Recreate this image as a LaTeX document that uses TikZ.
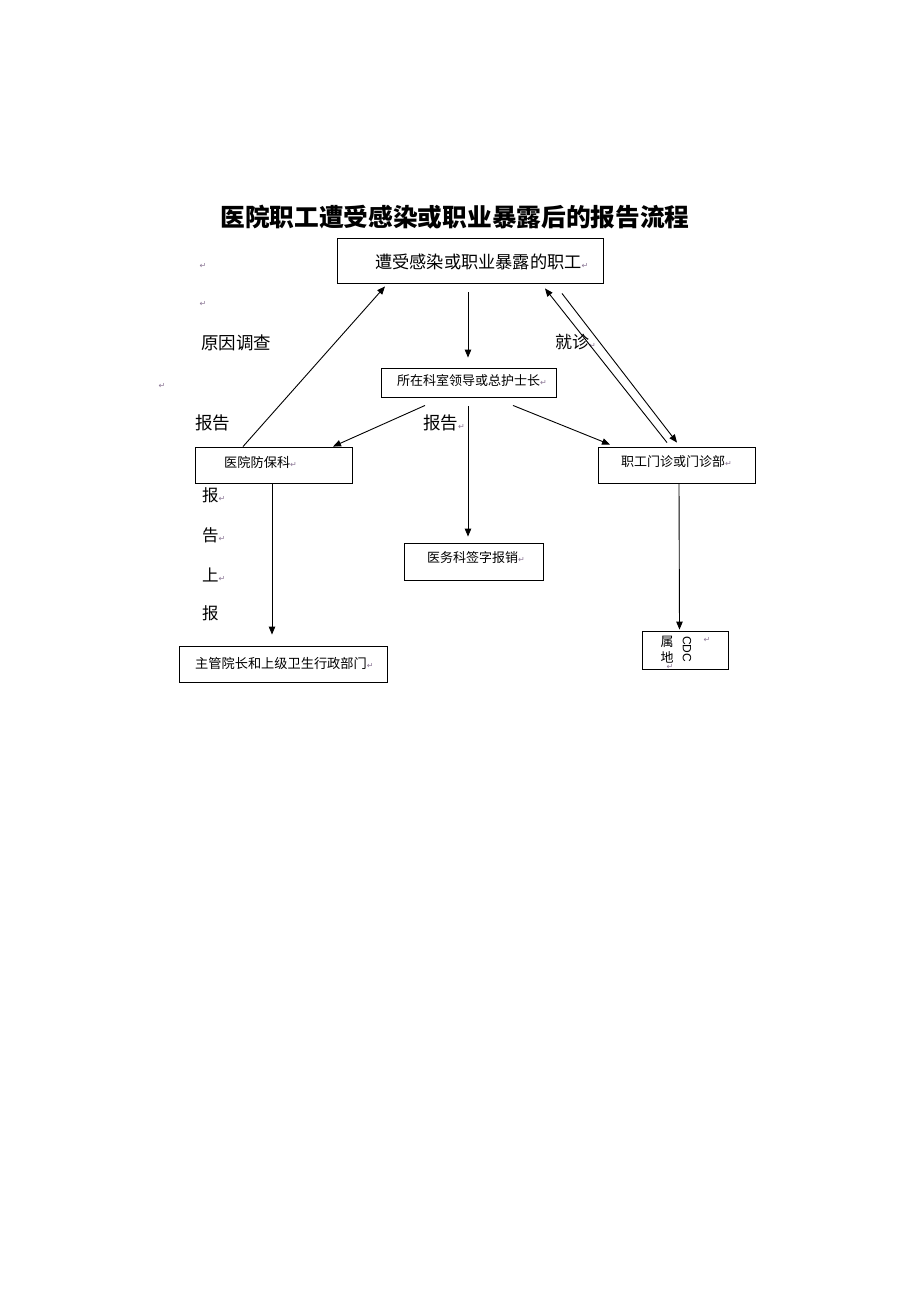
\documentclass[tikz,border=0pt]{standalone}
\usepackage{fontspec}
\usetikzlibrary{arrows.meta}
\newfontfamily\cjk{Noto Sans CJK SC}
\newfontfamily\dejavu{DejaVu Sans}
\newfontfamily\lsans{Liberation Sans}
\definecolor{retc}{RGB}{140,120,150}
\newcommand{\rmk}{{\dejavu\color{retc}\fontsize{8}{8}\selectfont ↵}}
\tikzset{
  box/.style={draw=black, line width=0.9pt, fill=white, inner sep=0pt},
  txt/.style={inner sep=0pt, anchor=west, font=\cjk},
  arr/.style={line width=0.9pt, -{Triangle[length=8pt,width=6.5pt]}},
}
\begin{document}
\begin{tikzpicture}[x=1pt,y=-1pt]
\useasboundingbox[fill=white] (0,0) rectangle (920,1302);
% title
\node[inner sep=0pt, font=\cjk\bfseries\fontsize{24.7}{26}\selectfont] (title) at (455,217) {医院职工遭受感染或职业暴露后的报告流程};
% return marks and side labels
\node[inner sep=0pt] (r1) at (203,266) {\rmk};
\node[inner sep=0pt] (r2) at (203,304) {\rmk};
\node[inner sep=0pt] (r3) at (162,386) {\rmk};
\node[txt, font=\cjk\fontsize{17.5}{18}\selectfont] (yy) at (201,343) {原因调查};
\node[txt, font=\cjk\fontsize{17.5}{18}\selectfont] (bg1) at (195,423) {报告};
\node[txt, font=\cjk\fontsize{17.5}{18}\selectfont] (bg2) at (423,423) {报告\rmk};
\node[txt, font=\cjk\fontsize{17}{18}\selectfont] (jz) at (555,342) {就诊\rmk};
\node[txt, font=\cjk\fontsize{16.5}{18}\selectfont] (v1) at (202,495) {报\rmk};
\node[txt, font=\cjk\fontsize{16.5}{18}\selectfont] (v2) at (202,535) {告\rmk};
\node[txt, font=\cjk\fontsize{16.5}{18}\selectfont] (v3) at (202,575) {上\rmk};
\node[txt, font=\cjk\fontsize{16.5}{18}\selectfont] (v4) at (202,613) {报};
% boxes
\node[box, minimum width=266pt, minimum height=45pt] (b1) at (470,260.5) {};
\node[txt, font=\cjk\fontsize{17.2}{18}\selectfont] (t1) at (375,262) {遭受感染或职业暴露的职工\rmk};
\node[box, minimum width=175pt, minimum height=29pt] (b2) at (468.5,382.5) {};
\node[txt, font=\cjk\fontsize{13}{15}\selectfont] (t2) at (397,381) {所在科室领导或总护士长\rmk};
\node[box, minimum width=157pt, minimum height=36pt] (b3) at (273.5,465) {};
\node[txt, font=\cjk\fontsize{13.2}{15}\selectfont] (t3) at (224,462) {医院防保科\rmk};
\node[box, minimum width=157pt, minimum height=36pt] (b4) at (676.5,465) {};
\node[txt, font=\cjk\fontsize{13}{15}\selectfont] (t4) at (621,462) {职工门诊或门诊部\rmk};
\node[box, minimum width=139pt, minimum height=37pt] (b5) at (473.5,561.5) {};
\node[txt, font=\cjk\fontsize{13}{15}\selectfont] (t5) at (427,558) {医务科签字报销\rmk};
\node[box, minimum width=208pt, minimum height=36pt] (b6) at (283,664) {};
\node[txt, font=\cjk\fontsize{13.2}{15}\selectfont] (t6) at (195,663) {主管院长和上级卫生行政部门\rmk};
\node[box, minimum width=86pt, minimum height=38pt] (b7) at (685,650) {};
\node[inner sep=0pt, font=\cjk\fontsize{13}{14}\selectfont] (s1) at (667,642) {属};
\node[inner sep=0pt, font=\cjk\fontsize{13}{14}\selectfont] (s2) at (667,657) {地};
\node[inner sep=0pt, font=\lsans\fontsize{12}{12}\selectfont, rotate=-90] (cdc) at (687,649) {CDC};
\node[inner sep=0pt] (r4) at (707,640) {\rmk};
\node[inner sep=0pt] (r5) at (670,667) {\rmk};
% connectors
\draw[arr] ([xshift=-30.5pt]b3.north) -- ([xshift=-85pt,yshift=-3pt]b1.south);
\draw[arr] ([xshift=-2pt,yshift=-9pt]b1.south) -- ([xshift=-0.5pt,yshift=10pt]b2.north);
\draw[arr] ([xshift=-43.5pt,yshift=-8pt]b2.south) -- ([xshift=59.5pt]b3.north);
\draw[arr] ([xshift=44.5pt,yshift=-8pt]b2.south) -- ([xshift=-66.5pt,yshift=2pt]b4.north);
\draw[arr] ([xshift=-0.5pt,yshift=-9pt]b2.south) -- ([xshift=-5.5pt,yshift=6pt]b5.north);
\draw[arr] ([xshift=-9.5pt,yshift=4pt]b4.north) -- ([xshift=75pt,yshift=-5pt]b1.south);
\draw[arr] ([xshift=92pt,yshift=-10pt]b1.south) -- ([xshift=0.5pt,yshift=4pt]b4.north);
\draw[arr] ([xshift=-1.5pt]b3.south) -- ([xshift=-11pt,yshift=11pt]b6.north);
\draw[arr] ([xshift=2.5pt]b4.south) -- ([xshift=-5.5pt,yshift=1pt]b7.north);
\end{tikzpicture}
\end{document}
